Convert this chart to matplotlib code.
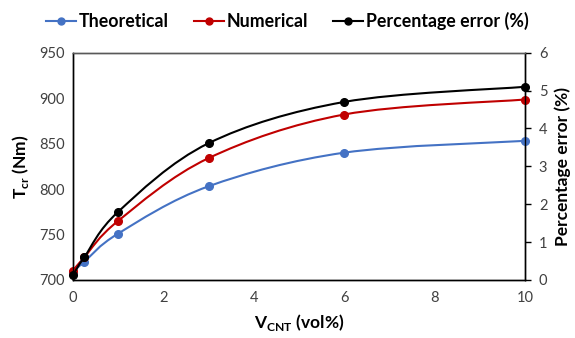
import numpy as np
import matplotlib
matplotlib.use("Agg")
import matplotlib.pyplot as plt
from matplotlib.path import Path
from matplotlib.patches import PathPatch
from matplotlib.lines import Line2D

plt.rcParams['font.family'] = ['Lato', 'DejaVu Sans']

v_cnt = [0, 0.25, 1, 3, 6, 10]
theoretical = [709, 720, 751, 803, 840, 853]
numerical = [710, 725, 765, 834, 882, 898.5]
perc_error = [0.13, 0.60, 1.80, 3.61, 4.70, 5.10]

x_ticks = [0, 2, 4, 6, 8, 10]
left_ticks = [700, 750, 800, 850, 900, 950]
right_ticks = [0, 1, 2, 3, 4, 5, 6]

c_blue = '#4472C4'
c_red = '#C00000'
c_black = '#000000'


def smooth_path(x, y):
    pts = np.column_stack([x, y]).astype(float)
    n = len(pts)
    verts = [pts[0]]
    codes = [Path.MOVETO]
    for i in range(n - 1):
        p0 = pts[i - 1] if i > 0 else pts[i]
        p1 = pts[i]
        p2 = pts[i + 1]
        p3 = pts[i + 2] if i + 2 < n else pts[i + 1]
        c1 = p1 + (p2 - p0) / 6.0
        c2 = p2 - (p3 - p1) / 6.0
        verts += [c1, c2, p2]
        codes += [Path.CURVE4] * 3
    return Path(verts, codes)


fig = plt.figure(figsize=(5.75, 3.38), dpi=100)
ax = fig.add_axes([0.127, 0.172, 0.786, 0.672])
ax2 = ax.twinx()

lw = 1.5
ms = 5.5

for ys, col in [(theoretical, c_blue), (numerical, c_red)]:
    ax.add_patch(PathPatch(smooth_path(v_cnt, ys), fill=False, edgecolor=col, lw=lw, zorder=2))
    ax.plot(v_cnt, ys, linestyle='none', marker='o', color=col, ms=ms, zorder=3, clip_on=False)

ax2.add_patch(PathPatch(smooth_path(v_cnt, perc_error), fill=False, edgecolor=c_black, lw=lw, zorder=2))
ax2.plot(v_cnt, perc_error, linestyle='none', marker='o', color=c_black, ms=ms, zorder=3, clip_on=False)

ax.set_xlim(0, 10)
ax.set_ylim(700, 950)
ax2.set_ylim(0, 6)
ax.set_xticks(x_ticks)
ax.set_yticks(left_ticks)
ax2.set_yticks(right_ticks)

tick_fs = 10.5
ax.tick_params(axis='both', length=0, labelsize=tick_fs, labelcolor='#404040', pad=6)
ax.tick_params(axis='x', pad=8)
ax2.tick_params(axis='y', length=4, width=1, direction='out', labelsize=tick_fs,
                labelcolor='#404040', color='black', pad=6)

for a in (ax, ax2):
    for s in a.spines.values():
        s.set_color('black')
        s.set_linewidth(1.0)
ax.spines['top'].set_color('#595959')
ax2.spines['top'].set_color('#595959')

lab_fs = 12.5
ax.set_xlabel('V$_{\\mathregular{CNT}}$ (vol%)', fontsize=lab_fs, fontweight='bold', labelpad=5)
ax.set_ylabel('T$_{\\mathregular{cr}}$ (Nm)', fontsize=lab_fs, fontweight='bold', labelpad=6)
ax2.set_ylabel('Percentage error (%)', fontsize=lab_fs, fontweight='bold', labelpad=5)

handles = [
    Line2D([], [], color=c_blue, marker='o', lw=lw, ms=5),
    Line2D([], [], color=c_red, marker='o', lw=lw, ms=5),
    Line2D([], [], color=c_black, marker='o', lw=lw, ms=5),
]
labels = ['Theoretical', 'Numerical', 'Percentage error (%)']
fig.legend(handles, labels, loc='center', bbox_to_anchor=(0.5, 1 - 21 / 338), ncol=3,
           frameon=False, prop={'weight': 'bold', 'size': 12.8}, handlelength=1.7,
           handletextpad=0.15, columnspacing=1.4)

fig.savefig('out.png', dpi=100)
